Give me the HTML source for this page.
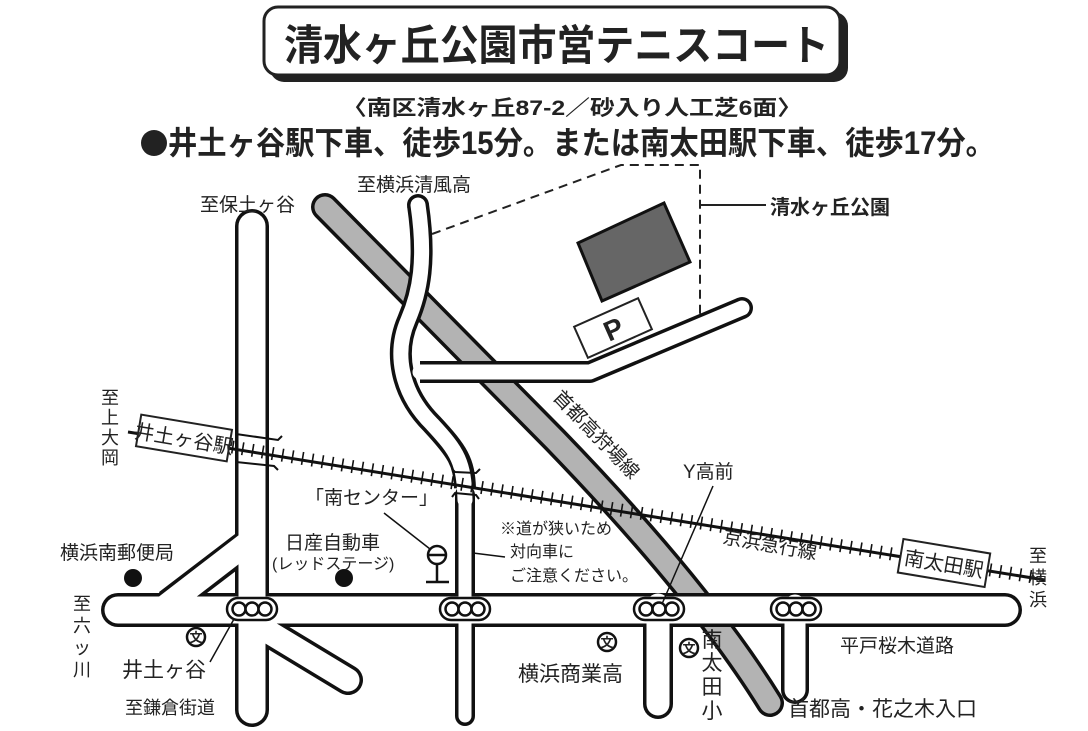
<!DOCTYPE html>
<html><head><meta charset="utf-8"><style>
html,body{margin:0;padding:0;background:#fff;}
svg{display:block;font-family:"Liberation Sans","Noto Sans CJK JP",sans-serif;}
text{fill:#222;}
</style></head><body>
<svg width="1088" height="731" viewBox="0 0 1088 731" xmlns="http://www.w3.org/2000/svg">
<!-- title -->
<rect x="270" y="12" width="578" height="70" rx="14" fill="#222"/>
<rect x="264" y="7" width="576" height="68" rx="14" fill="#fff" stroke="#222" stroke-width="3"/>
<text x="284" y="60" font-size="42" font-weight="bold" textLength="545" lengthAdjust="spacingAndGlyphs">清水ヶ丘公園市営テニスコート</text>
<text x="342" y="115" font-size="21" font-weight="bold" textLength="460" lengthAdjust="spacingAndGlyphs">〈南区清水ヶ丘87-2／砂入り人工芝6面〉</text>
<circle cx="154" cy="143" r="13" fill="#222"/>
<text x="168" y="154" font-size="32" font-weight="bold" textLength="827" lengthAdjust="spacingAndGlyphs">井土ヶ谷駅下車、徒歩15分。または南太田駅下車、徒歩17分。</text>

<!-- park dashed boundary -->
<polyline points="432,234 621,165 700,165 700,318" fill="none" stroke="#222" stroke-width="2" stroke-dasharray="9,6"/>
<line x1="700" y1="205" x2="766" y2="205" stroke="#222" stroke-width="2"/>
<text x="770" y="214" font-size="20" font-weight="bold">清水ヶ丘公園</text>
<polygon points="578,243 664,203 690,262 602,301" fill="#666" stroke="#111" stroke-width="3"/>
<g transform="translate(613,328) rotate(-24)">
<rect x="-35" y="-17" width="70" height="34" fill="#fff" stroke="#222" stroke-width="2"/>
<text x="0" y="11" font-size="28" font-weight="bold" text-anchor="middle">P</text>
</g>

<!-- roads -->
<g fill="none" stroke-linecap="round" stroke-linejoin="round">
<path d="M325,207 L555,440 Q700,590 770,703" stroke="#111" stroke-width="28"/>
<path d="M325,207 L555,440 Q700,590 770,703" stroke="#b3b3b3" stroke-width="21"/>
<g stroke="#111">
<path d="M420,372 L590,372 L742,308" stroke-width="22" stroke-linecap="butt"/>
<path d="M742,308 L742,308" stroke-width="22"/>
<path d="M418,205 C426,260 420,292 408,320 C394,352 400,392 432,424 C458,452 464,462 465,488" stroke-width="22" stroke-linecap="butt"/>
<path d="M418,205 L418,205" stroke-width="22"/>
<path d="M465,495 L465,716" stroke-width="20"/>
<path d="M252,226 L252,710" stroke-width="34"/>
<path d="M118,610 L1005,610" stroke-width="34"/>
<path d="M168,604 L244,546" stroke-width="30" stroke-linecap="butt"/>
<path d="M262,628 L348,680" stroke-width="30"/>
<path d="M658,612 L658,704" stroke-width="30"/>
<path d="M795,612 L795,690" stroke-width="28"/>
</g>
<g stroke="#fff">
<path d="M420,372 L590,372 L742,308" stroke-width="15"/>
<path d="M418,205 C426,260 420,292 408,320 C394,352 400,392 432,424 C458,452 464,462 465,500" stroke-width="15"/>
<path d="M465,495 L465,716" stroke-width="13"/>
<path d="M252,226 L252,710" stroke-width="27"/>
<path d="M118,610 L1005,610" stroke-width="27"/>
<path d="M163,608 L250,541" stroke-width="23" stroke-linecap="butt"/>
<path d="M252,622 L348,680" stroke-width="23"/>
<path d="M658,605 L658,704" stroke-width="23"/>
<path d="M795,605 L795,690" stroke-width="21"/>
<path d="M240,610 L270,610" stroke-width="27"/>
</g>
</g>

<!-- railway -->
<line x1="128" y1="432" x2="1045" y2="580" stroke="#111" stroke-width="3"/>
<line x1="232" y1="447" x2="1040" y2="578" stroke="#111" stroke-width="13" stroke-dasharray="1.6,8.5"/>
<g fill="none" stroke="#111" stroke-width="2">
<path d="M236,432 L236,434 L278,440 L282,436"/><path d="M236,458 L236,462 L274,466 L278,470"/>
<path d="M452,469 L455,472 L476,473 L480,469"/><path d="M452,497 L455,493 L476,495 L479,499"/>
</g>
<g transform="translate(184,438) rotate(9.5)">
<rect x="-46" y="-16" width="92" height="32" fill="#fff" stroke="#222" stroke-width="2"/>
<text x="0" y="8" font-size="20" text-anchor="middle">井土ヶ谷駅</text>
</g>
<g transform="translate(944,563) rotate(9.5)">
<rect x="-44" y="-17" width="88" height="34" fill="#fff" stroke="#222" stroke-width="2"/>
<text x="0" y="8" font-size="20" text-anchor="middle">南太田駅</text>
</g>

<!-- signals -->
<g fill="#fff" stroke="#111" stroke-width="2.5">
<g transform="translate(252,609)"><rect x="-25" y="-11" width="50" height="22" rx="11"/><circle cx="-13" r="6.5"/><circle cx="0" r="6.5"/><circle cx="13" r="6.5"/></g>
<g transform="translate(465,609)"><rect x="-25" y="-11" width="50" height="22" rx="11"/><circle cx="-13" r="6.5"/><circle cx="0" r="6.5"/><circle cx="13" r="6.5"/></g>
<g transform="translate(659,609)"><rect x="-25" y="-11" width="50" height="22" rx="11"/><circle cx="-13" r="6.5"/><circle cx="0" r="6.5"/><circle cx="13" r="6.5"/></g>
<g transform="translate(796,609)"><rect x="-25" y="-11" width="50" height="22" rx="11"/><circle cx="-13" r="6.5"/><circle cx="0" r="6.5"/><circle cx="13" r="6.5"/></g>
</g>

<circle cx="133" cy="578" r="9" fill="#111"/>
<circle cx="344" cy="578" r="9" fill="#111"/>
<g stroke="#111" stroke-width="2.5" fill="#fff">
<circle cx="437" cy="555" r="9"/><line x1="428" y1="555" x2="446" y2="555"/>
<line x1="437" y1="564" x2="437" y2="582"/><line x1="426" y1="582" x2="449" y2="582"/>
</g>
<g font-size="13" text-anchor="middle">
<circle cx="196" cy="637" r="9" fill="none" stroke="#111" stroke-width="2.5"/><text x="196" y="642" font-weight="bold">文</text>
<circle cx="607" cy="642" r="9" fill="none" stroke="#111" stroke-width="2.5"/><text x="607" y="647" font-weight="bold">文</text>
<circle cx="689" cy="648" r="9" fill="none" stroke="#111" stroke-width="2.5"/><text x="689" y="653" font-weight="bold">文</text>
</g>

<g stroke="#111" stroke-width="1.5">
<line x1="210" y1="662" x2="234" y2="619"/>
<line x1="713" y1="486" x2="662" y2="604"/>
<line x1="384" y1="513" x2="430" y2="549"/>
<line x1="473" y1="553" x2="505" y2="557"/>
</g>

<g font-size="19">
<text x="200" y="211">至保土ヶ谷</text>
<text x="357" y="191">至横浜清風高</text>
<text x="683" y="478">Y高前</text>
<text x="305" y="504">「南センター」</text>
<text x="285" y="549">日産自動車</text>
<text x="272" y="569" font-size="16">(レッドステージ)</text>
<text x="60" y="559">横浜南郵便局</text>
<text x="122" y="677" font-size="21">井土ヶ谷</text>
<text x="125" y="714" font-size="18">至鎌倉街道</text>
<text x="518" y="681" font-size="21">横浜商業高</text>
<text x="840" y="652">平戸桜木道路</text>
<text x="788" y="716" font-size="21">首都高・花之木入口</text>
<text x="500" y="534" font-size="16">※道が狭いため</text>
<text x="510" y="557" font-size="16">対向車に</text>
<text x="510" y="581" font-size="16">ご注意ください。</text>
</g>
<g font-size="18" text-anchor="middle">
<text x="110" y="404">至</text><text x="110" y="424">上</text><text x="110" y="444">大</text><text x="110" y="464">岡</text>
<text x="1038" y="562">至</text><text x="1038" y="584">横</text><text x="1038" y="606">浜</text>
<text x="82" y="610">至</text><text x="82" y="632">六</text><text x="82" y="654">ッ</text><text x="82" y="676">川</text>
</g>
<g font-size="21" text-anchor="middle">
<text x="712" y="647">南</text><text x="712" y="670">太</text><text x="712" y="694">田</text><text x="712" y="718">小</text>
</g>
<text x="0" y="0" font-size="19" transform="translate(552,398) rotate(46)">首都高狩場線</text>
<text x="0" y="0" font-size="19" transform="translate(722,543) rotate(10)">京浜急行線</text>
</svg>
</body></html>
